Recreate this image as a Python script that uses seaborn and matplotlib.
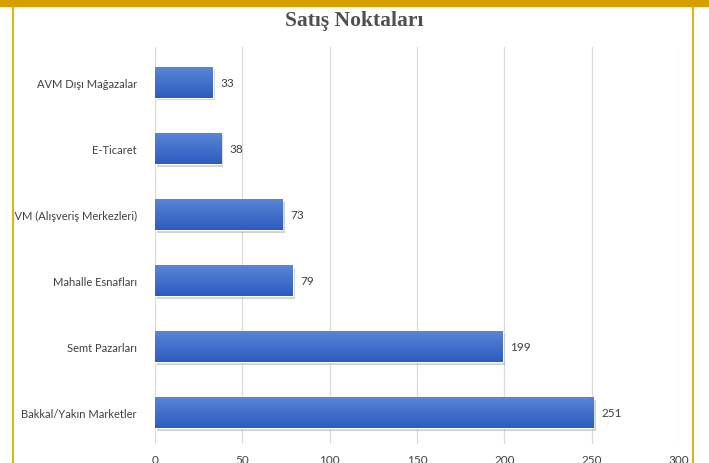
import numpy as np
import pandas as pd
import matplotlib
matplotlib.use("Agg")
import matplotlib.pyplot as plt
import matplotlib.patheffects as pe
from matplotlib.lines import Line2D
from matplotlib.patches import Rectangle
import seaborn as sns

categories = ["AVM Dışı Mağazalar", "E-Ticaret", "AVM (Alışveriş Merkezleri)",
              "Mahalle Esnafları", "Semt Pazarları", "Bakkal/Yakın Marketler"]
values = [33, 38, 73, 79, 199, 251]
x_ticks = [0, 50, 100, 150, 200, 250, 300]

df = pd.DataFrame({"kanal": categories, "adet": values})

sns.set_theme(style="white")
plt.rcParams["font.family"] = ["Lato", "DejaVu Sans"]

fig = plt.figure(figsize=(7.09, 4.64), dpi=100)
ax = fig.add_axes([0.2186, 0.041, 0.7391, 0.8555])

sns.barplot(data=df, x="adet", y="kanal", orient="h", color="#3f6fcc",
            width=0.47, ax=ax, zorder=3)

# gradient fill + soft shadow on each bar
grad = np.linspace(0, 1, 64).reshape(-1, 1)
cmap = matplotlib.colors.LinearSegmentedColormap.from_list("bl", ["#5a87d8", "#2c5cbf"])
for bar in ax.patches:
    x0, y0 = bar.get_x(), bar.get_y()
    w, h = bar.get_width(), bar.get_height()
    bar.set_path_effects([pe.SimplePatchShadow(offset=(1.5, -2), shadow_rgbFace="#999999", alpha=0.45),
                          pe.Normal()])
    im = ax.imshow(grad, cmap=cmap, aspect="auto", extent=[x0, x0 + w, y0 + h, y0],
                   zorder=4, interpolation="bilinear")
    im.set_clip_path(bar)

for i, v in enumerate(values):
    ax.text(v + 4.5, i, str(v), va="center", ha="left", fontsize=8.5, color="#404040", zorder=5)

ax.set_xlim(0, 300)
ax.set_ylim(5.47, -0.53)
ax.set_xticks(x_ticks)
ax.set_xticklabels([str(t) for t in x_ticks])
ax.tick_params(axis="x", length=0, pad=7, labelsize=8.5, labelcolor="#404040")
ax.tick_params(axis="y", length=0, pad=13, labelsize=8, labelcolor="#404040")
ax.set_xlabel("")
ax.set_ylabel("")
ax.grid(axis="x", color="#d9d9d9", linewidth=0.9, zorder=0)
ax.set_axisbelow(True)
for s in ax.spines.values():
    s.set_visible(False)

fig.text(0.5, 1 - 21 / 464, "Satış Noktaları", ha="center", va="center", fontsize=15.5,
         fontweight="bold", family="Liberation Serif", color="#505050")

# golden frame of the original slide
fig.patches.append(Rectangle((0, 1 - 7 / 464), 1, 7 / 464, transform=fig.transFigure,
                             color="#d4a000", zorder=10))
fig.lines.append(Line2D([13 / 709, 13 / 709], [0, 1 - 7 / 464], transform=fig.transFigure,
                        color="#e2b21c", linewidth=1.5, zorder=10))
fig.lines.append(Line2D([693 / 709, 693 / 709], [0, 1 - 7 / 464], transform=fig.transFigure,
                        color="#e2b21c", linewidth=1.5, zorder=10))
fig.patches.append(Rectangle((0, 0), 13 / 709, 1, transform=fig.transFigure,
                             color="white", zorder=9))

fig.savefig("out.png", dpi=100)
